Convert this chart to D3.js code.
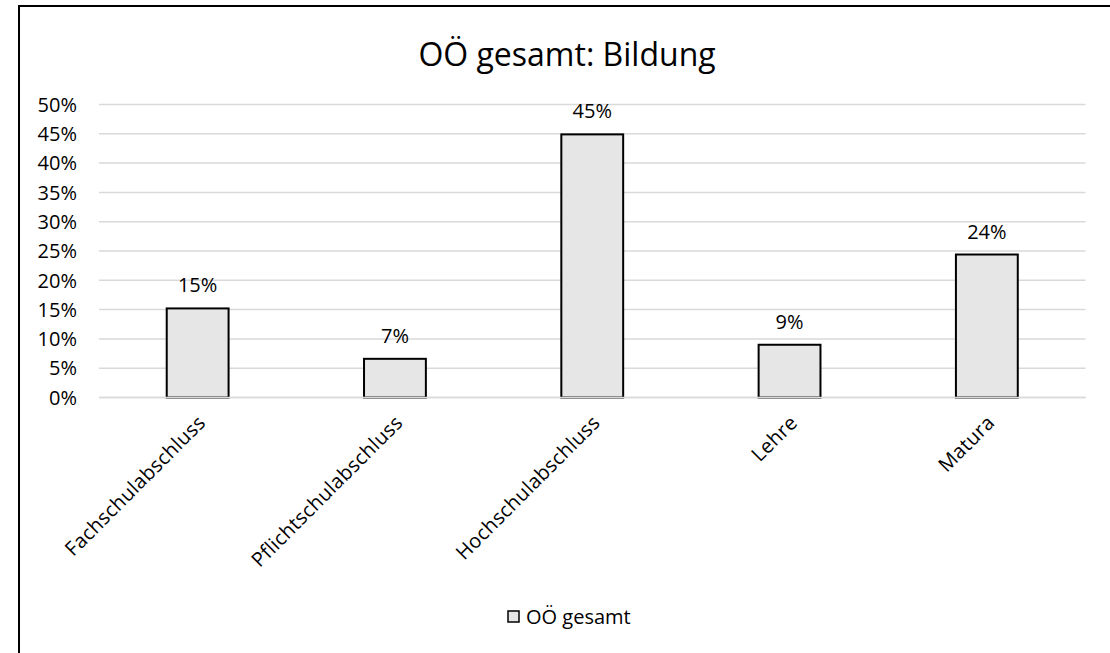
<!DOCTYPE html>
<html><head><meta charset="utf-8">
<script src="https://cdn.jsdelivr.net/npm/d3@7"></script>
<style>body{margin:0;background:#fff;} svg{display:block;} text{font-family:"Open Sans","Noto Sans",sans-serif;fill:#000;}</style>
</head><body>
<svg id="c" width="1110" height="653"></svg>
<script>
const categories = ["Fachschulabschluss","Pflichtschulabschluss","Hochschulabschluss","Lehre","Matura"];
const values = [0.152, 0.066, 0.449, 0.090, 0.244];
const dataLabels = ["15%","7%","45%","9%","24%"];
const yTicks = [0,0.05,0.1,0.15,0.2,0.25,0.3,0.35,0.4,0.45,0.5];
const title = "OÖ gesamt: Bildung";
const seriesName = "OÖ gesamt";

const svg = d3.select("#c");
svg.append("rect").attr("x",0).attr("y",0).attr("width",1110).attr("height",653).attr("fill","#fff");
svg.append("rect").attr("x",19).attr("y",6).attr("width",1200).attr("height",700)
  .attr("fill","none").attr("stroke","#000").attr("stroke-width",2);

const x = d3.scaleBand().domain(categories).range([99,1085.5]).paddingInner(0).paddingOuter(0);
const y = d3.scaleLinear().domain([0,0.5]).range([397.5,104.5]);
const bw = x.bandwidth()/3.19;

svg.append("text").attr("x",567).attr("y",66).attr("text-anchor","middle")
  .attr("font-size",32).text(title);

svg.append("g").selectAll("line").data(yTicks).join("line")
  .attr("x1",99).attr("x2",1085.5).attr("y1",d=>y(d)).attr("y2",d=>y(d))
  .attr("stroke","#d9d9d9").attr("stroke-width",1.5);

const fmt = d3.format(".0%");
svg.append("g").selectAll("text").data(yTicks).join("text")
  .attr("x",77).attr("y",d=>y(d)).attr("dy","0.36em").attr("text-anchor","end")
  .attr("font-size",20).text(d=>fmt(d));

svg.append("g").selectAll("rect").data(values).join("rect")
  .attr("x",(d,i)=>x(categories[i])+x.bandwidth()/2-bw/2)
  .attr("y",d=>y(d)).attr("width",bw).attr("height",d=>y(0)-y(d))
  .attr("fill","#e7e6e6").attr("stroke","#000").attr("stroke-width",2);

svg.append("line").attr("x1",99).attr("x2",1085.5).attr("y1",y(0)).attr("y2",y(0))
  .attr("stroke","#d9d9d9").attr("stroke-width",1.5);

svg.append("g").selectAll("text").data(values).join("text")
  .attr("x",(d,i)=>x(categories[i])+x.bandwidth()/2)
  .attr("y",d=>y(d)-16).attr("text-anchor","middle")
  .attr("font-size",20).text((d,i)=>dataLabels[i]);

svg.append("g").selectAll("text").data(categories).join("text")
  .attr("transform",d=>`translate(${x(d)+x.bandwidth()/2+9},${424}) rotate(-45)`)
  .attr("text-anchor","end").attr("font-size",20).attr("letter-spacing",0.3).text(d=>d);

svg.append("rect").attr("x",508).attr("y",611).attr("width",11).attr("height",11)
  .attr("fill","#e7e6e6").attr("stroke","#000").attr("stroke-width",1.5);
svg.append("text").attr("x",526).attr("y",624).attr("font-size",20).text(seriesName);
</script>
</body></html>
